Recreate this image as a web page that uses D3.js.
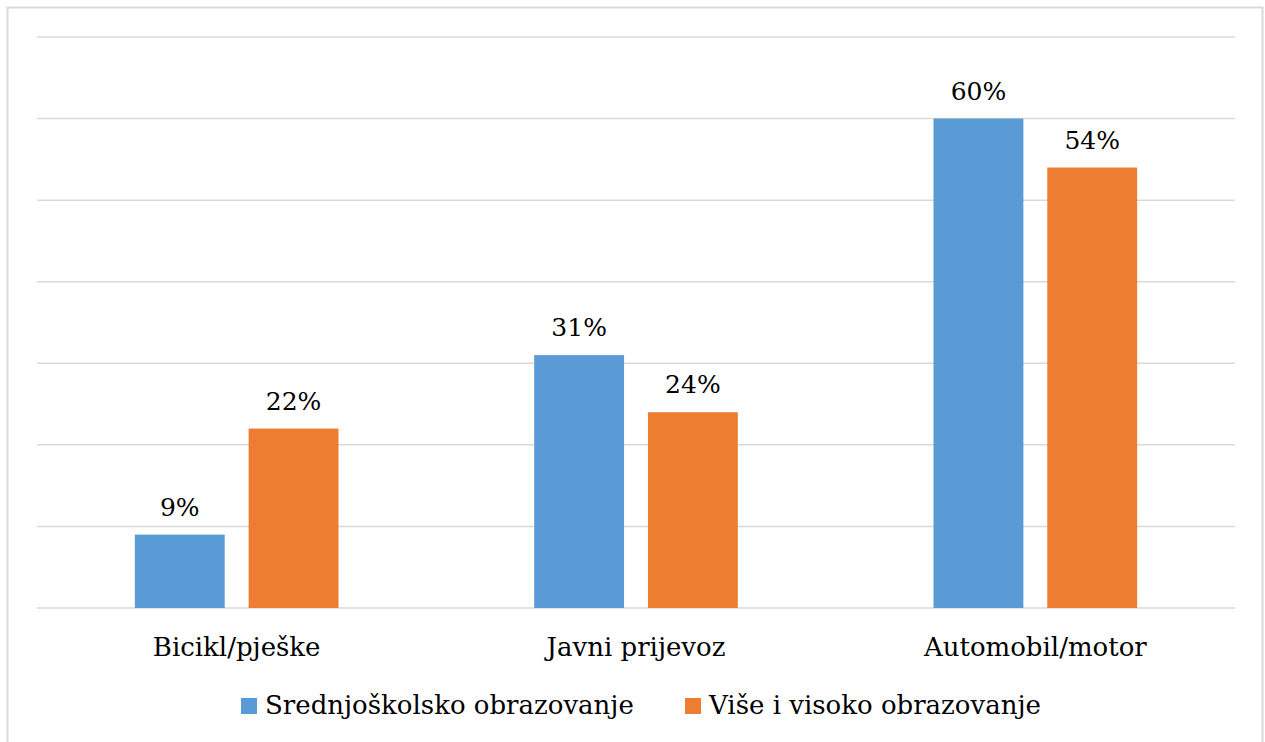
<!DOCTYPE html>
<html>
<head>
<meta charset="utf-8">
<script src="https://cdn.jsdelivr.net/npm/d3@7"></script>
<style>
  body { margin: 0; background: #fff; }
  text { font-family: 'DejaVu Serif', serif; }
</style>
</head>
<body>
<main></main>
<script>
const categories = ['Bicikl/pješke', 'Javni prijevoz', 'Automobil/motor']
const seriesNames = ['Srednjoškolsko obrazovanje', 'Više i visoko obrazovanje']
const srednje = [9, 31, 60]
const visoko = [22, 24, 54]
const colors = ['#5b9bd5', '#ed7d31']
const yTicks = [0, 10, 20, 30, 40, 50, 60, 70]

const W = 1265
const H = 742
const margin = { left: 37, right: 30, top: 37, bottom: 134 }

const svg = d3.select('main')
  .append('svg')
  .attr('width', W)
  .attr('height', H)
  .style('display', 'block')

// chart border
svg.append('rect')
  .attr('x', 7.5)
  .attr('y', 7.5)
  .attr('width', W - 10)
  .attr('height', H)
  .style('fill', 'none')
  .style('stroke', '#d9d9d9')
  .style('stroke-width', '2px')

const x0 = d3.scaleBand()
  .domain(categories)
  .range([margin.left, W - margin.right])

const x1 = d3.scaleBand()
  .domain([0, 1])
  .range([0, x0.bandwidth()])
  .paddingInner(0.21)
  .paddingOuter(0.86)

const y = d3.scaleLinear()
  .domain([0, 70])
  .range([H - margin.bottom, margin.top])

// gridlines
svg.append('g')
  .selectAll('line')
  .data(yTicks)
  .enter()
  .append('line')
  .attr('x1', margin.left)
  .attr('x2', W - margin.right)
  .attr('y1', d => y(d))
  .attr('y2', d => y(d))
  .style('stroke', '#d9d9d9')
  .style('stroke-width', '1.5px')

const rows = categories.map((c, i) => ({ cat: c, vals: [srednje[i], visoko[i]] }))

const group = svg.selectAll('.grp')
  .data(rows)
  .enter()
  .append('g')
  .attr('class', 'grp')
  .attr('transform', d => 'translate(' + x0(d.cat) + ',0)')

group.selectAll('rect')
  .data(d => d.vals.map((v, s) => ({ v: v, s: s })))
  .enter()
  .append('rect')
  .attr('x', d => x1(d.s))
  .attr('width', x1.bandwidth())
  .attr('y', d => y(d.v))
  .attr('height', d => y(0) - y(d.v))
  .style('fill', d => colors[d.s])

group.selectAll('text')
  .data(d => d.vals.map((v, s) => ({ v: v, s: s })))
  .enter()
  .append('text')
  .attr('x', d => x1(d.s) + x1.bandwidth() / 2)
  .attr('y', d => y(d.v) - 19)
  .attr('text-anchor', 'middle')
  .style('font-size', '25px')
  .style('fill', '#000')
  .text(d => d.v + '%')

// category labels
svg.append('g')
  .selectAll('text')
  .data(categories)
  .enter()
  .append('text')
  .attr('x', d => x0(d) + x0.bandwidth() / 2)
  .attr('y', y(0) + 48)
  .attr('text-anchor', 'middle')
  .style('font-size', '26px')
  .style('fill', '#000')
  .text(d => d)

// legend
const legendX = [241, 685]
const legend = svg.append('g')
  .selectAll('g')
  .data(seriesNames)
  .enter()
  .append('g')
  .attr('transform', (d, i) => 'translate(' + legendX[i] + ',698)')
legend.append('rect')
  .attr('width', 16)
  .attr('height', 16)
  .style('fill', (d, i) => colors[i])
legend.append('text')
  .attr('x', 24)
  .attr('y', 16)
  .style('font-size', '26px')
  .style('fill', '#000')
  .text(d => d)
</script>
</body>
</html>
